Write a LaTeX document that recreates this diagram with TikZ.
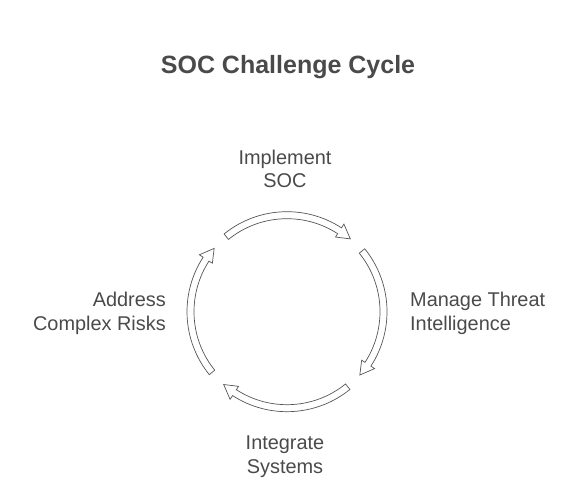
\documentclass[tikz,border=0pt]{standalone}
\usepackage{fontspec}
\setmainfont{Liberation Sans}
\definecolor{textgray}{HTML}{4A4A4A}
\definecolor{linegray}{HTML}{555555}
\begin{document}
\begin{tikzpicture}[x=1pt,y=1pt,
    cyclearrow/.style={draw=linegray, fill=white, line width=0.7pt, line join=miter},
    steplabel/.style={text=textgray, inner sep=0, font=\fontsize{19.9}{23.5}\selectfont}]
  \useasboundingbox (0,0) rectangle (588,486);
  \node[font=\bfseries\fontsize{25}{30}\selectfont, text=textgray, anchor=base] (title) at (288,412) {SOC Challenge Cycle};
  \coordinate (centre) at (287,174.3);
  % four arrows round the cycle
  \foreach \s in {129,39,-51,-141}{
    \draw[cyclearrow, shift={(centre)}] (\s:100) arc[start angle=\s, end angle=\s-72, radius=100pt]
      -- ({\s-72}:104.5) -- ({\s-80}:96.5) -- ({\s-72}:89) -- ({\s-72}:93)
      arc[start angle=\s-72, end angle=\s, radius=93pt] -- cycle;
  }
  \node[steplabel, align=center] (implement) at (285,317.2) {Implement\\SOC};
  \node[steplabel, align=left, anchor=west] (manage) at (410,172.8) {Manage Threat\\Intelligence};
  \node[steplabel, align=center] (integrate) at (285,29.1) {Integrate\\Systems};
  \node[steplabel, align=right, anchor=east] (address) at (166,172.8) {Address\\Complex Risks};
\end{tikzpicture}
\end{document}
